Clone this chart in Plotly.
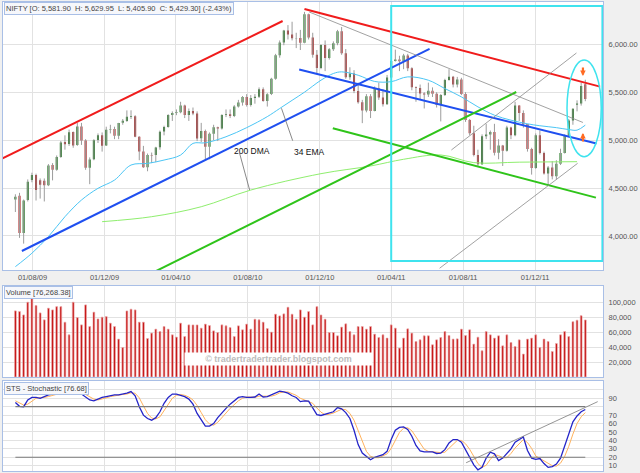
import pandas as pd
import plotly.graph_objects as go

# weekly candles, week ending Friday
week_ending = pd.date_range("2009-07-03", "2012-02-24", freq="W-FRI")

opens = [
    4380, 4420, 4030, 4375, 4585, 4635, 4580, 4575, 4530, 4740,
    4690, 4825, 4980, 4960, 5085, 4950, 5142, 4997, 4711, 4800,
    5000, 5050, 4945, 5110, 5115, 5046, 5180, 5200, 5245, 5250,
    5036, 4880, 4718, 4845, 4845, 4925, 5090, 5137, 5262, 5282,
    5290, 5360, 5262, 5304, 5278, 5020, 5094, 4932, 5067, 5135,
    5120, 5262, 5269, 5251, 5352, 5393, 5449, 5367, 5440, 5452,
    5530, 5409, 5480, 5640, 5885, 6018, 6143, 6103, 6062, 6066,
    6017, 6312, 6071, 5890, 5752, 5992, 5857, 5948, 6011, 6135,
    5905, 5655, 5696, 5512, 5395, 5310, 5458, 5303, 5538, 5445,
    5373, 5654, 5826, 5842, 5824, 5884, 5749, 5551, 5544, 5486,
    5476, 5516, 5485, 5366, 5471, 5627, 5660, 5581, 5633, 5482,
    5211, 5072, 4845, 4748, 5040, 5059, 5084, 4867, 4943, 4888,
    5132, 5050, 5360, 5284, 5168, 4906, 4710, 5050, 4866, 4651,
    4714, 4624, 4754, 4866, 5049, 5205, 5370, 5382, 5581.90,
]
highs = [
    4435, 4450, 4380, 4590, 4660, 4650, 4600, 4600, 4750, 4760,
    4840, 4990, 5050, 5110, 5090, 5180, 5180, 5010, 4820, 5010,
    5070, 5080, 5140, 5160, 5140, 5180, 5220, 5310, 5311, 5260,
    5040, 4940, 4860, 4870, 4930, 5100, 5150, 5270, 5300, 5320,
    5400, 5370, 5330, 5340, 5300, 5180, 5110, 5080, 5160, 5140,
    5270, 5320, 5320, 5365, 5420, 5460, 5480, 5470, 5480, 5550,
    5550, 5490, 5650, 5900, 6040, 6150, 6200, 6235, 6120, 6150,
    6338, 6320, 6120, 5940, 6000, 6040, 5960, 6030, 6150, 6180,
    5950, 5760, 5730, 5600, 5420, 5480, 5480, 5560, 5600, 5530,
    5680, 5840, 5944, 5880, 5900, 5900, 5760, 5560, 5580, 5500,
    5600, 5550, 5500, 5480, 5640, 5740, 5670, 5660, 5650, 5500,
    5220, 5150, 4900, 5060, 5170, 5100, 5170, 5010, 4950, 5150,
    5140, 5400, 5360, 5310, 5170, 4920, 5070, 5100, 4880, 4730,
    4780, 4790, 4910, 5060, 5220, 5330, 5415, 5600, 5629.95,
]
lows = [
    4250, 3980, 3920, 4360, 4560, 4370, 4390, 4360, 4520, 4580,
    4680, 4815, 4900, 4940, 4920, 4940, 4950, 4690, 4540, 4790,
    4970, 4880, 4940, 5070, 5010, 5010, 5160, 5190, 5220, 5030,
    4790, 4710, 4675, 4760, 4770, 4900, 5050, 5130, 5200, 5260,
    5280, 5230, 5200, 5260, 4990, 4980, 4790, 4800, 5000, 4990,
    5110, 5240, 5230, 5240, 5340, 5360, 5350, 5350, 5380, 5440,
    5400, 5350, 5470, 5630, 5860, 5990, 6050, 6040, 5960, 5940,
    6010, 6050, 5860, 5690, 5740, 5720, 5840, 5930, 5990, 5890,
    5640, 5630, 5490, 5380, 5177, 5290, 5230, 5300, 5420, 5350,
    5370, 5650, 5820, 5720, 5740, 5720, 5520, 5400, 5420, 5330,
    5450, 5450, 5340, 5195, 5460, 5620, 5550, 5550, 5470, 5190,
    5050, 4830, 4720, 4740, 5010, 4900, 4840, 4800, 4730, 4880,
    5010, 5040, 5200, 5130, 4880, 4640, 4700, 4850, 4640, 4530,
    4590, 4590, 4740, 4860, 5030, 5160, 5300, 5360, 5405.90,
]
closes = [
    4410, 4030, 4370, 4565, 4635, 4480, 4535, 4530, 4735, 4690,
    4825, 4975, 4958, 5083, 4945, 5142, 4997, 4711, 4797, 4998,
    5052, 4942, 5108, 5117, 5046, 5178, 5201, 5245, 5252, 5036,
    4882, 4718, 4845, 4840, 4922, 5088, 5137, 5262, 5282, 5290,
    5361, 5262, 5304, 5278, 5018, 5094, 4932, 5067, 5135, 5120,
    5262, 5269, 5251, 5352, 5393, 5449, 5367, 5439, 5452, 5530,
    5409, 5479, 5640, 5885, 6018, 6143, 6103, 6062, 6066, 6017,
    6312, 6071, 5890, 5752, 5992, 5857, 5948, 6011, 6135, 5905,
    5655, 5696, 5512, 5395, 5310, 5458, 5303, 5538, 5445, 5373,
    5654, 5826, 5842, 5824, 5884, 5749, 5551, 5544, 5486, 5476,
    5516, 5485, 5366, 5471, 5627, 5660, 5581, 5633, 5482, 5211,
    5072, 4845, 4748, 5040, 5059, 5084, 4867, 4943, 4888, 5132,
    5050, 5360, 5284, 5168, 4906, 4710, 5050, 4866, 4651, 4714,
    4624, 4754, 4866, 5049, 5205, 5326, 5382, 5564, 5429.30,
]
volume = [
    88400, 87500, 83000, 100000, 108800, 95500, 85700, 76400, 92000, 89700,
    94100, 94100, 73300, 56400, 100000, 79500, 69700, 96400, 67500, 86700,
    77700, 80000, 80800, 72000, 67500, 50700, 39500, 88400, 90700, 89700,
    73300, 73300, 51500, 58700, 64000, 60800, 67500, 64000, 56400, 53300,
    72000, 54100, 69700, 69700, 69700, 65300, 70700, 68800, 61700, 59500,
    69700, 68400, 66100, 54100, 68400, 63100, 70700, 64000, 77300, 76400,
    73300, 64800, 60000, 84000, 81700, 84400, 93300, 84000, 77300, 89700,
    80000, 87500, 69700, 94100, 83000, 77300, 59500, 59500, 55100, 66700,
    71100, 60800, 56400, 67500, 67500, 64000, 67500, 57300, 52800, 56400,
    52000, 69700, 65300, 38700, 52000, 64400, 58700, 47500, 49700, 55100,
    55100, 43100, 49700, 52800, 60800, 55500, 50700, 51000, 64000, 55500,
    63100, 44000, 53300, 35100, 60800, 56400, 52000, 55100, 41700, 56400,
    46100, 40800, 49700, 30700, 50700, 52000, 56400, 39500, 50700, 47500,
    34100, 44800, 56400, 60800, 54100, 74000, 76000, 82000, 76268.38,
]
stoch_k = [
    85, 80.5, 80, 88, 91, 91, 90, 92, 94, 95,
    96.5, 97.5, 98, 98, 97, 96.5, 95, 92, 88, 87,
    89, 91, 92, 93, 94, 94, 95, 96, 98, 93,
    80, 70, 66, 64, 67, 74, 84, 91, 95, 95,
    93.5, 92, 89, 83, 72, 64, 57, 57, 60, 67,
    73, 78, 83, 87, 91, 92, 91, 91, 91.5, 95,
    91.5, 92, 94, 96.5, 98.5, 97.5, 96, 93, 91, 86,
    87, 86.5, 79, 70.5, 69.6, 71, 72.5, 74, 79, 77.5,
    73, 66, 52, 35, 25, 21, 17, 20, 21.4, 23,
    27, 41, 52, 55.5, 56, 53, 45, 34, 27.5, 26.5,
    26.5, 26.5, 24.5, 25, 29, 37, 41, 41, 38, 29,
    21, 11, 5, 8, 19, 26, 24, 16, 19, 24,
    30, 38, 41, 44, 28, 19, 17.5, 18.5, 12.5, 8,
    9, 12, 19, 33, 48, 62, 69, 74, 76.68,
]
stoch_d = [
    87, 84, 82, 83, 86, 90, 91, 91, 92, 93.5,
    95, 96.5, 97.5, 98, 97.5, 97, 96, 94.5, 92, 89,
    88, 89, 90.5, 92, 93, 93.5, 94.5, 95, 96.5, 96,
    90.5, 81, 72, 66.5, 65.5, 68, 75, 83, 90, 93.5,
    94.5, 93.5, 91.5, 88, 81.5, 73, 64.5, 59.5, 58, 61.5,
    66.5, 72.5, 78, 82.5, 87, 90, 91.5, 91.5, 91, 92.5,
    92.5, 93, 92.5, 94, 96.5, 97.5, 97.5, 95.5, 93.5, 90,
    88, 86.5, 84, 78.5, 73.5, 70.5, 71, 72.5, 75, 77,
    76.5, 72, 64, 51, 37.5, 27, 21, 19.5, 19.5, 21.5,
    24, 30.5, 40, 49.5, 54.5, 55, 51.5, 44, 35.5, 29.5,
    27, 26.5, 26, 25.5, 26, 30.5, 36, 40, 40, 36,
    29.5, 20.5, 12.5, 8, 10.5, 17.5, 23, 22, 19.5, 19.5,
    24.5, 31, 36.5, 41, 37.5, 30.5, 21.5, 18.5, 16, 13,
    10, 9.5, 13, 21, 33, 47.5, 60, 68, 73,
]

# moving averages (week number, level)
ema34_weeks = [0, 4, 8, 12, 16, 20, 24, 28, 32, 36, 40, 43, 46, 51, 56, 61, 64, 67, 70, 74,
               77, 79, 83, 87, 91, 95, 100, 104, 108, 112, 116, 120, 124, 127, 131, 134, 136, 138]
ema34_values = [3680, 3820, 3993, 4201, 4375, 4497, 4583, 4740, 4757, 4792, 4844, 4966, 4972, 5035,
                5130, 5245, 5330, 5415, 5500, 5625, 5695, 5712, 5677, 5612, 5610, 5660, 5625, 5538,
                5451, 5347, 5260, 5208, 5170, 5150, 5130, 5110, 5104, 5156]
dma200_weeks = [21, 33, 45, 57, 74, 86, 94, 103, 111, 122, 136]
dma200_values = [4149, 4201, 4305, 4479, 4650, 4730, 4800, 4845, 4765, 4770, 4775]

# hand drawn trendlines: (start date, level, end date, level, colour, width)
trendlines = [
    ("2009-06-06", 4793, "2010-09-29", 6243, "#f01c1c", 2),
    ("2010-11-05", 6368, "2012-03-20", 5558, "#f01c1c", 2),
    ("2009-07-14", 3843, "2011-06-05", 5951, "#1f4ff0", 2),
    ("2010-10-27", 5737, "2012-03-14", 4965, "#1f4ff0", 2),
    ("2010-01-27", 3541, "2011-10-30", 5502, "#2fc41a", 2),
    ("2010-12-23", 5124, "2012-03-13", 4400, "#2fc41a", 2),
    ("2010-11-13", 6337, "2012-02-20", 5184, "#8a8a8a", 0.8),
    ("2011-07-12", 4897, "2012-02-09", 5909, "#8a8a8a", 0.8),
    ("2011-06-22", 3663, "2012-02-11", 4758, "#8a8a8a", 0.8),
    ("2010-09-27", 5332, "2010-10-16", 4994, "#6a6a6a", 0.8),
    ("2010-07-18", 4863, "2010-08-04", 4480, "#6a6a6a", 0.8),
]
stoch_trend = ("2011-08-06", 13.5, "2012-03-16", 86)

date_ticks = ["2009-08-01", "2009-12-01", "2010-04-01", "2010-08-01",
              "2010-12-01", "2011-04-01", "2011-08-01", "2011-12-01"]
price_ticks = [4000, 4500, 5000, 5500, 6000]
volume_ticks = [20000, 40000, 60000, 80000, 100000]
stoch_ticks = [10, 20, 30, 40, 50, 60, 70, 80, 90, 100]
stoch_text = ["10", "20", "30", "40", "50", "60", "70", "", "90", ""]

BORDER = "#a9bfe6"
GRID = "#e2e2e2"
FONT = "Liberation Sans, Arial, sans-serif"
tickfont = dict(family=FONT, size=7.5, color="#555555")

fig = go.Figure()

# grey wicks under the candle bodies
wick_x, wick_y = [], []
for d, h, l in zip(week_ending, highs, lows):
    wick_x += [d, d, None]
    wick_y += [l, h, None]
fig.add_trace(go.Scatter(x=wick_x, y=wick_y, mode="lines",
                         line=dict(color="#9c9c9c", width=1), hoverinfo="skip"))

fig.add_trace(go.Candlestick(
    x=week_ending, open=opens, high=highs, low=lows, close=closes,
    increasing=dict(fillcolor="#0f6b0f", line=dict(color="#0f6b0f", width=0)),
    decreasing=dict(fillcolor="#a51414", line=dict(color="#a51414", width=0)),
))

fig.add_trace(go.Scatter(x=week_ending[dma200_weeks], y=dma200_values, mode="lines",
                         line=dict(color="#8fee6e", width=1, shape="spline")))
fig.add_trace(go.Scatter(x=week_ending[ema34_weeks], y=ema34_values, mode="lines",
                         line=dict(color="#4cc6f5", width=1, shape="spline")))

for x0, y0, x1, y1, color, width in trendlines:
    fig.add_trace(go.Scatter(x=[x0, x1], y=[y0, y1], mode="lines",
                             line=dict(color=color, width=width)))

# volume
fig.add_trace(go.Bar(x=week_ending, y=volume, xaxis="x2", yaxis="y2",
                     width=3 * 86400000,
                     marker=dict(color="#c00000", line=dict(color="#ecaaaa", width=0.7))))

# stochastic
fig.add_trace(go.Scatter(x=week_ending, y=stoch_d, xaxis="x3", yaxis="y3", mode="lines",
                         line=dict(color="#ffb25c", width=1)))
fig.add_trace(go.Scatter(x=week_ending, y=stoch_k, xaxis="x3", yaxis="y3", mode="lines",
                         line=dict(color="#2424c8", width=1.3)))
for level in (80, 20):
    fig.add_trace(go.Scatter(x=[week_ending[0], week_ending[-1]], y=[level, level],
                             xaxis="x3", yaxis="y3", mode="lines",
                             line=dict(color="#7a7a7a", width=1.2)))
fig.add_trace(go.Scatter(x=[stoch_trend[0], stoch_trend[2]], y=[stoch_trend[1], stoch_trend[3]],
                         xaxis="x3", yaxis="y3", mode="lines",
                         line=dict(color="#7a7a7a", width=0.8)))

fig.add_shape(type="rect", xref="x", yref="y", x0="2011-04-01", x1="2012-03-24",
              y0=3740, y1=6400, line=dict(color="#3fe3ee", width=2))
fig.add_shape(type="circle", xref="x", yref="y", x0="2012-01-24", x1="2012-03-22",
              y0=4827, y1=5836, line=dict(color="#3fe3ee", width=1.5))

axis_x = dict(type="date", range=["2009-06-12", "2012-03-25"], tickvals=date_ticks,
              tickformat="%d/%m/%y", showgrid=True, gridcolor=GRID, showline=True,
              mirror=True, linecolor=BORDER, zeroline=False, ticks="", tickfont=tickfont)
axis_y = dict(side="right", showgrid=True, gridcolor=GRID, showline=True, mirror=True,
              linecolor=BORDER, zeroline=False, ticks="", tickfont=tickfont,
              ticklabelstandoff=3)

fig.update_layout(
    width=640, height=473,
    margin=dict(l=3, r=37, t=2, b=2),
    paper_bgcolor="#f0f0f0", plot_bgcolor="white",
    showlegend=False,
    font=dict(family=FONT),
    xaxis=dict(axis_x, anchor="y", domain=[0, 1], rangeslider=dict(visible=False)),
    xaxis2=dict(axis_x, anchor="y2", matches="x", showticklabels=False),
    xaxis3=dict(axis_x, anchor="y3", matches="x", showticklabels=False),
    yaxis=dict(axis_y, domain=[0.4286, 1], range=[3645, 6441], tickvals=price_ticks,
               tickformat=",.2f"),
    yaxis2=dict(axis_y, domain=[0.2004, 0.3945], range=[0, 121700], tickvals=volume_ticks,
                tickformat=",.0f"),
    yaxis3=dict(axis_y, domain=[0, 0.1919], range=[3.7, 110.5], tickvals=stoch_ticks,
                ticktext=stoch_text),
)

nb = "\u00a0"
box = dict(xref="paper", yref="paper", xanchor="left", yanchor="top", showarrow=False,
           bgcolor="#f6f7fb", bordercolor=BORDER, borderwidth=1, borderpad=1,
           font=dict(family=FONT, size=7.5, color="#444444"))
fig.add_annotation(box, x=0.001, y=0.999,
                   text=f"NIFTY [O: 5,581.90{nb}{nb}H: 5,629.95{nb}{nb}L: 5,405.90{nb}{nb}"
                        f"C: 5,429.30] (-2.43%)")
fig.add_annotation(box, x=0.001, y=0.3935, text="Volume [76,268.38]")
fig.add_annotation(box, x=0.001, y=0.1905, text="STS - Stochastic [76.68]")

fig.add_annotation(xref="paper", yref="paper", x=0.301, y=0.224, showarrow=False,
                   text="© tradertradertrader.blogspot.com", bgcolor="white",
                   width=185, height=10,
                   font=dict(family=FONT, size=9, color="#bdbdbd", weight="bold"))

label_font = dict(family=FONT, size=8.5, color="#111111")
fig.add_annotation(x="2010-08-08", y=4882, text="200 DMA", showarrow=False, font=label_font)
fig.add_annotation(x="2010-11-13", y=4876, text="34 EMA", showarrow=False, font=label_font)

arrow = dict(xref="x", yref="y", text="", showarrow=True, arrowhead=2, arrowsize=0.5,
             arrowwidth=2.2, arrowcolor="#ff6a22", ax=0)
fig.add_annotation(arrow, x="2012-02-20", y=5670, ay=-10)
fig.add_annotation(arrow, x="2012-02-20", y=5075, ay=10)

fig.write_html("out.html", config={"displayModeBar": False},
               post_script="document.body.style.margin='0';")
